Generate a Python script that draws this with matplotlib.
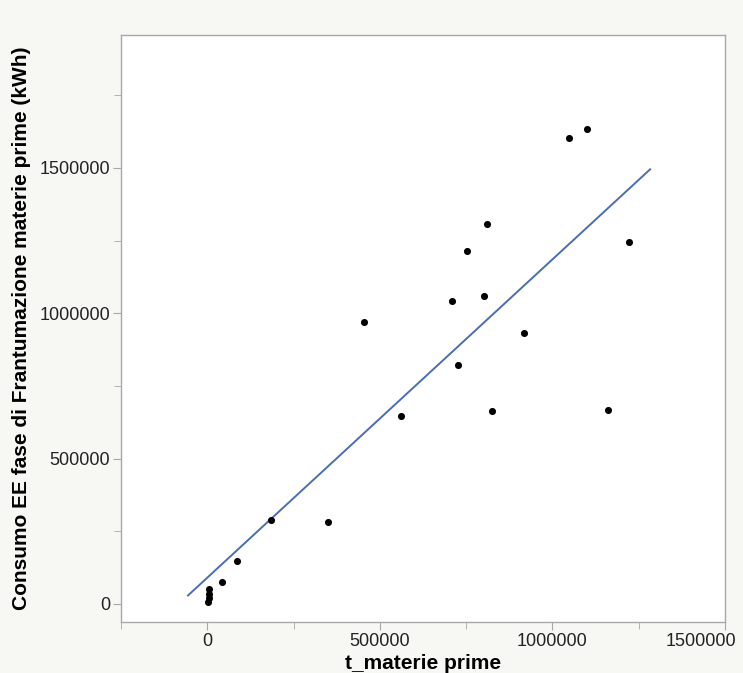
import matplotlib
matplotlib.use("Agg")
import matplotlib.pyplot as plt
import numpy as np
from matplotlib.ticker import MultipleLocator
from matplotlib.transforms import ScaledTranslation

plt.rcParams['font.family'] = ['Liberation Sans', 'DejaVu Sans']

# data
t_materie = [3000, 4000, 4000, 5000, 42000, 87000, 184000, 350000, 453000, 562000,
             710000, 727000, 751000, 801000, 811000, 824000, 919000, 1049000,
             1100000, 1161000, 1222000]
consumo = [8000, 20000, 33000, 50000, 75000, 147000, 289000, 283000, 970000, 646000,
           1041000, 821000, 1215000, 1060000, 1308000, 663000, 933000, 1604000,
           1633000, 667000, 1245000]

fit_slope = 1.0947
fit_intercept = 90500
fit_x_range = [-56000, 1283000]

x_ticks = [0, 500000, 1000000, 1500000]
y_ticks = [0, 500000, 1000000, 1500000]

fig = plt.figure(figsize=(7.43, 6.73), dpi=100)
fig.patch.set_facecolor('#f7f7f4')
ax = fig.add_axes([0.1629, 0.0758, 0.9758 - 0.1629, 0.948 - 0.0758])
ax.set_facecolor('white')

fx = np.array(fit_x_range, dtype=float)
ax.plot(fx, fit_slope * fx + fit_intercept, color='#4a6db3', lw=1.4, zorder=2)
ax.scatter(t_materie, consumo, s=26, color='black', zorder=3, linewidths=0)

ax.set_xlim(-250000, 1500000)
ax.set_ylim(-62000, 1957000)
ax.set_xticks(x_ticks)
ax.set_yticks(y_ticks)
ax.set_xticklabels([str(v) for v in x_ticks])
ax.set_yticklabels([str(v) for v in y_ticks])
ax.xaxis.set_minor_locator(MultipleLocator(250000))
ax.yaxis.set_minor_locator(MultipleLocator(250000))

for s in ax.spines.values():
    s.set_color('#a8a8a8')
    s.set_linewidth(1.0)
ax.tick_params(which='major', length=6, color='#a8a8a8', labelsize=13, labelcolor='#222222', pad=2)
ax.tick_params(which='minor', length=5, color='#a8a8a8')

# last x label shifted to stay inside the figure, as in the reference
last = ax.get_xticklabels()[-1]
last.set_horizontalalignment('right')
last.set_transform(last.get_transform() + ScaledTranslation(11 / 100, 0, fig.dpi_scale_trans))

ax.set_xlabel('t_materie prime', fontsize=15, fontweight='bold', labelpad=3)
ax.set_ylabel('Consumo EE fase di Frantumazione materie prime (kWh)', fontsize=15,
              fontweight='bold', labelpad=6)

fig.savefig('out.png', dpi=100, facecolor=fig.get_facecolor())
